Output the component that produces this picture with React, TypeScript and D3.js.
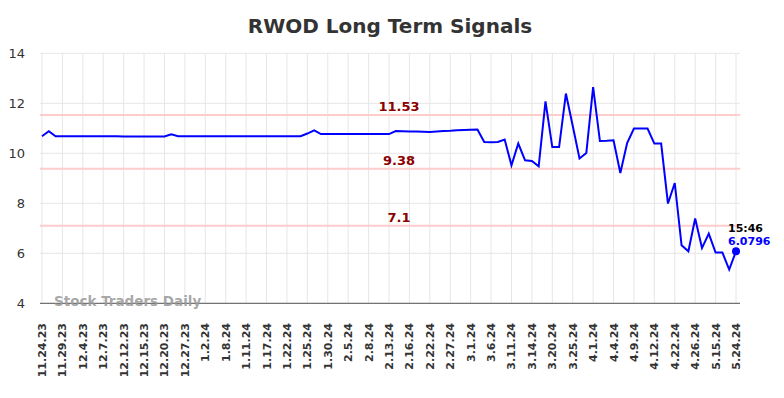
import React from "react";
import * as d3 from "d3";

const tickLabels = [
  "11.24.23", "11.29.23", "12.4.23", "12.7.23", "12.12.23", "12.15.23", "12.20.23", "12.27.23",
  "1.2.24", "1.8.24", "1.11.24", "1.17.24", "1.22.24", "1.25.24", "1.30.24", "2.5.24", "2.8.24",
  "2.13.24", "2.16.24", "2.22.24", "2.27.24", "3.1.24", "3.6.24", "3.11.24", "3.14.24", "3.20.24",
  "3.25.24", "4.1.24", "4.4.24", "4.9.24", "4.12.24", "4.22.24", "4.26.24", "5.15.24", "5.24.24",
];

const values = [
  10.68, 10.88, 10.68, 10.68, 10.68, 10.68, 10.68, 10.68, 10.68, 10.68,
  10.68, 10.68, 10.67, 10.67, 10.67, 10.67, 10.67, 10.67, 10.67, 10.76,
  10.68, 10.68, 10.68, 10.68, 10.68, 10.68, 10.68, 10.68, 10.68, 10.68,
  10.68, 10.68, 10.68, 10.68, 10.68, 10.68, 10.68, 10.68, 10.68, 10.79,
  10.92, 10.77, 10.77, 10.77, 10.77, 10.77, 10.77, 10.77, 10.77, 10.77,
  10.77, 10.77, 10.89, 10.88, 10.87, 10.87, 10.86, 10.85, 10.87, 10.89,
  10.9, 10.92, 10.93, 10.94, 10.95, 10.45, 10.44, 10.45, 10.55, 9.52,
  10.39, 9.72, 9.69, 9.48, 12.08, 10.25, 10.25, 12.39, 11.1, 9.79,
  10.01, 12.65, 10.49, 10.5, 10.52, 9.21, 10.41, 10.99, 10.99, 10.99,
  10.39, 10.39, 7.99, 8.81, 6.32, 6.08, 7.39, 6.21, 6.79, 6.03,
  6.03, 5.35, 6.0796,
];

const levels = [11.53, 9.38, 7.1];
const yTicks = [4, 6, 8, 10, 12, 14];
const tickEvery = 3;
const lastTime = "15:46";
const title = "RWOD Long Term Signals";
const watermark = "Stock Traders Daily";

export default function App() {
  const W = 784, H = 398;
  const plotL = 40, plotR = 740;
  const x = d3.scaleLinear().domain([0, values.length - 1]).range([42, 736]);
  const y = d3.scaleLinear().domain([4, 14]).range([303.3, 53.3]);
  const line = d3.line<number>().x((_, i) => x(i)).y((d) => y(d));
  const font = "'DejaVu Sans', sans-serif";
  const lastI = values.length - 1;
  const lastV = values[lastI];

  return (
    <svg width={W} height={H} style={{ position: "absolute", left: 0, top: 0 }} fontFamily={font}>
      <rect x={0} y={0} width={W} height={H} fill="#fff" />
      <text x={390} y={33} textAnchor="middle" fontSize={20} fontWeight="bold" fill="#333">{title}</text>
      {yTicks.map((t) => (
        <g key={"y" + t}>
          <line x1={plotL} x2={plotR} y1={y(t)} y2={y(t)} stroke="#e6e6e6" strokeWidth={1} />
          <text x={25} y={y(t) + 5} textAnchor="end" fontSize={13} fill="#333">{t}</text>
        </g>
      ))}
      {tickLabels.map((lab, k) => {
        const xi = x(k * tickEvery);
        return (
          <g key={"x" + k}>
            <line x1={xi} x2={xi} y1={53.3} y2={303.3} stroke="#e6e6e6" strokeWidth={1} />
            <text transform={`translate(${xi + 4},${323}) rotate(-90)`} textAnchor="end" fontSize={11} fontWeight="bold" fill="#333">{lab}</text>
          </g>
        );
      })}
      {levels.map((lv) => (
        <g key={"l" + lv}>
          <line x1={plotL} x2={plotR} y1={y(lv)} y2={y(lv)} stroke="#ffcccc" strokeWidth={2} />
          <text x={399} y={y(lv) - 4} textAnchor="middle" fontSize={13} fontWeight="bold" fill="#8b0000">{lv}</text>
        </g>
      ))}
      <line x1={plotL} x2={plotR} y1={303.3} y2={303.3} stroke="#555" strokeWidth={1} />
      <text x={54} y={306} fontSize={13.5} fontWeight="bold" fill="#999" fillOpacity={0.85}>{watermark}</text>
      <path d={line(values) ?? ""} fill="none" stroke="#0000ff" strokeWidth={2} />
      <circle cx={x(lastI)} cy={y(lastV)} r={4} fill="#0000ff" />
      <text x={x(lastI) - 8} y={232} fontSize={11} fontWeight="bold" fill="#000">{lastTime}</text>
      <text x={x(lastI) - 8} y={245} fontSize={11} fontWeight="bold" fill="#0000ff">{lastV}</text>
    </svg>
  );
}
